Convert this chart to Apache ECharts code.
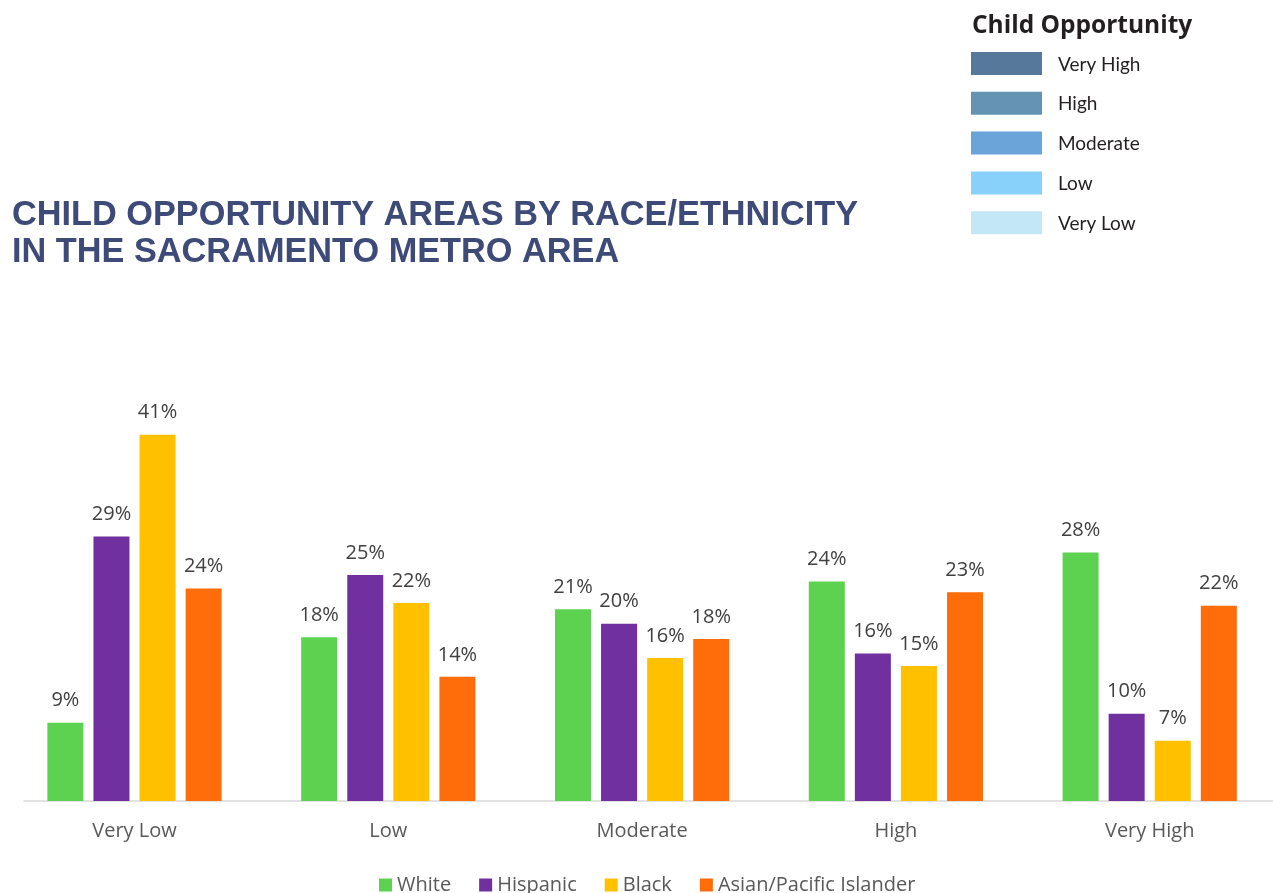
<!DOCTYPE html>
<html>
<head>
<meta charset="utf-8">
<script src="https://cdn.jsdelivr.net/npm/echarts@6/dist/echarts.min.js"></script>
<style>
  html, body { margin: 0; padding: 0; background: #ffffff; }
  #chart { width: 1273px; height: 893px; }
</style>
</head>
<body>
<div id="chart"></div>
<script>
// ---- Data ----
const categories = ['Very Low', 'Low', 'Moderate', 'High', 'Very High'];
const seriesNames = ['White', 'Hispanic', 'Black', 'Asian/Pacific Islander'];
const white    = [8.7, 18.2, 21.3, 24.4, 27.6];
const hispanic = [29.4, 25.1, 19.7, 16.4, 9.7];
const black    = [40.7, 22.0, 15.9, 15.0, 6.7];
const asianPI  = [23.6, 13.8, 18.0, 23.2, 21.7];
const titleLines = ['CHILD OPPORTUNITY AREAS BY RACE/ETHNICITY', 'IN THE SACRAMENTO METRO AREA'];
const keyTitle = 'Child Opportunity';
const keyLevels = ['Very High', 'High', 'Moderate', 'Low', 'Very Low'];

// ---- Styles ----
const seriesColors = ['#5dd150', '#7030a0', '#ffc000', '#ff6d0a'];
const keyColors = ['#56789a', '#6593b3', '#6aa4d9', '#87d1fa', '#c4e7f5'];
const valueSets = [white, hispanic, black, asianPI];

const chart = echarts.init(document.getElementById('chart'), null, { renderer: 'canvas' });

const keyGraphics = [];
keyGraphics.push({
  type: 'text', left: 972, top: 14,
  style: { text: keyTitle, font: 'bold 24.5px "Open Sans"', fill: '#231f20' }
});
keyLevels.forEach((lv, i) => {
  keyGraphics.push({
    type: 'rect', shape: { x: 971, y: 52 + i * 39.8, width: 71, height: 23 },
    style: { fill: keyColors[i] }
  });
  keyGraphics.push({
    type: 'text', left: 1058, top: 55 + i * 39.8,
    style: { text: lv, font: '19px Lato', fill: '#231f20' }
  });
});

const option = {
  backgroundColor: '#ffffff',
  animation: false,
  title: {
    text: titleLines.join('\n'),
    left: 7, top: 192,
    textStyle: {
      fontFamily: 'Liberation Sans', fontWeight: 'bold', fontSize: 34.3,
      color: '#3e4a77', lineHeight: 37
    }
  },
  graphic: keyGraphics,
  legend: {
    data: seriesNames,
    left: 374, top: 870,
    itemWidth: 13, itemHeight: 13, itemGap: 28,
    icon: 'rect',
    textStyle: { fontFamily: 'Open Sans', fontSize: 20, color: '#595959' }
  },
  grid: [
    { left: 7.6, width: 1269, top: 396, bottom: 92, containLabel: false, outerBoundsMode: 'none' },
    { left: 24, right: 0, top: 396, bottom: 92, containLabel: false, outerBoundsMode: 'none' }
  ],
  xAxis: [
    {
      type: 'category', gridIndex: 0, data: categories,
      axisLine: { show: false }, axisTick: { show: false },
      axisLabel: { margin: 20, fontFamily: 'Open Sans', fontSize: 20, color: '#595959' }
    },
    {
      type: 'value', gridIndex: 1, min: 0, max: 1, show: true,
      axisLine: { show: true, lineStyle: { color: '#d9d9d9', width: 1.5 } },
      axisTick: { show: false }, axisLabel: { show: false }, splitLine: { show: false }
    }
  ],
  yAxis: [
    { type: 'value', gridIndex: 0, min: 0, max: 45, show: false, splitLine: { show: false } },
    { type: 'value', gridIndex: 1, min: 0, max: 1, show: false, splitLine: { show: false } }
  ],
  series: seriesNames.map((name, i) => ({
    name: name, type: 'bar', xAxisIndex: 0, yAxisIndex: 0,
    data: valueSets[i],
    barWidth: 36, barGap: '28%',
    itemStyle: { color: seriesColors[i] },
    label: {
      show: true, position: 'top', distance: 12,
      fontFamily: 'Open Sans', fontSize: 20, color: '#404040',
      formatter: p => Math.round(p.value) + '%'
    }
  }))
};
chart.setOption(option);
</script>
</body>
</html>
